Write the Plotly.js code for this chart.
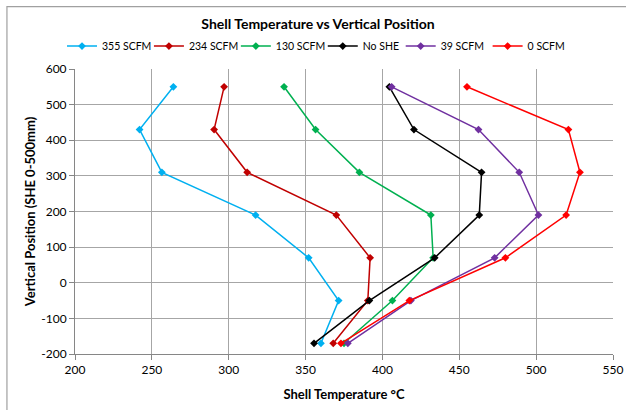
<!DOCTYPE html>
<html>
<head>
<meta charset="utf-8">
<script src="https://cdn.plot.ly/plotly-3.0.1.min.js"></script>
<style>html,body{margin:0;padding:0;background:#fff;}#chart{width:626px;height:410px;}</style>
</head>
<body>
<div id="chart"></div>
<script>
var positions = [550, 430, 310, 190, 70, -50, -170];
var seriesNames = ["355 SCFM", "234 SCFM", "130 SCFM", "No SHE", "39 SCFM", "0 SCFM"];
var seriesColors = ["#00B0F0", "#C00000", "#00B050", "#000000", "#7030A0", "#FF0000"];
var t355 = [264, 242, 256.5, 317.5, 352, 371.5, 360];
var t234 = [297, 290.5, 312, 370, 392, 390.5, 368];
var t130 = [336, 356.5, 385, 431.5, 433, 406.5, 375];
var tNoShe = [404.5, 420.5, 464.5, 463, 434, 391.5, 355.5];
var t39 = [406, 462.5, 489, 501.5, 473, 418.5, 377.5];
var t0 = [455, 521, 528.5, 519.5, 480, 417.5, 373];
var seriesValues = [t355, t234, t130, tNoShe, t39, t0];
var xTicks = [200, 250, 300, 350, 400, 450, 500, 550];
var yTicks = [-200, -100, 0, 100, 200, 300, 400, 500, 600];

var FONT = "Lato, 'Open Sans', sans-serif";
var ML = 75, MR = 12.5, MT = 69, MB = 55.5, W = 626, H = 410;
var PW = W - ML - MR;
// legend text start positions (px)
var legendTextStart = [102, 189, 276, 363, 441, 528];

var traces = seriesNames.map(function (n, i) {
  return {
    type: "scatter", mode: "lines+markers", name: n,
    legend: i === 0 ? "legend" : "legend" + (i + 1),
    x: seriesValues[i], y: positions,
    line: {color: seriesColors[i], width: 1.5},
    marker: {color: seriesColors[i], symbol: "diamond", size: 6}
  };
});

var layout = {
  width: W, height: H,
  margin: {l: ML, r: MR, t: MT, b: MB},
  paper_bgcolor: "#fff", plot_bgcolor: "#fff",
  font: {family: FONT, size: 12, color: "#404040"},
  showlegend: true,
  title: {text: "<b>Shell Temperature vs Vertical Position</b>", x: 0.508, xanchor: "center", y: 0.942, yanchor: "middle", font: {family: FONT, size: 14, color: "#000"}},
  xaxis: {
    range: [200, 550], tickvals: xTicks, ticktext: xTicks.map(String),
    showgrid: true, gridcolor: "#A6A6A6", gridwidth: 1, zeroline: false,
    showline: true, linecolor: "#868686", linewidth: 1,
    ticks: "outside", ticklen: 5, tickcolor: "#868686",
    tickfont: {family: FONT, size: 12, color: "#000"},
    title: {text: "<b>Shell Temperature °C</b>", font: {family: FONT, size: 13, color: "#000"}, standoff: 13}
  },
  yaxis: {
    range: [-200, 600], tickvals: yTicks, ticktext: yTicks.map(String),
    showgrid: true, gridcolor: "#A6A6A6", gridwidth: 1, zeroline: false,
    showline: true, linecolor: "#868686", linewidth: 1,
    ticks: "outside", ticklen: 5, tickcolor: "#868686",
    tickfont: {family: FONT, size: 12, color: "#000"},
    title: {text: "<b>Vertical Position (SHE 0-500mm)</b>", font: {family: FONT, size: 13, color: "#000"}, standoff: 2}
  },
  shapes: [{type: "rect", xref: "paper", yref: "paper", x0: -0.1265, x1: 2, y0: -1, y1: 1.219, line: {color: "#A0A0A0", width: 1.2}, fillcolor: "rgba(0,0,0,0)"}]
};

legendTextStart.forEach(function (px, i) {
  var key = i === 0 ? "legend" : "legend" + (i + 1);
  layout[key] = {
    orientation: "h", xanchor: "left", x: (px - 40 - ML) / PW,
    y: 1 + (MT - 46) / (H - MT - MB), yanchor: "middle",
    font: {family: FONT, size: 10.5, color: "#000"}, itemwidth: 30,
    bgcolor: "rgba(0,0,0,0)", borderwidth: 0
  };
});

Plotly.newPlot("chart", traces, layout, {displayModeBar: false, staticPlot: true});
</script>
</body>
</html>
